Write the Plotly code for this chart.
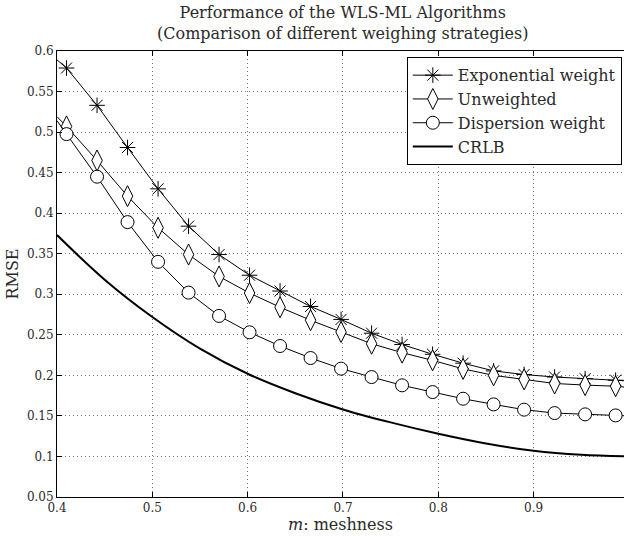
import plotly.graph_objects as go

# ---- data ----
m = [0.41, 0.442, 0.474, 0.506, 0.538, 0.57, 0.602, 0.634, 0.666, 0.698,
     0.73, 0.762, 0.794, 0.826, 0.858, 0.89, 0.922, 0.954, 0.986]

exp_w = [0.579, 0.533, 0.481, 0.430, 0.384, 0.349, 0.3235, 0.304, 0.285, 0.269,
         0.252, 0.238, 0.226, 0.215, 0.2055, 0.201, 0.198, 0.196, 0.194]
unw = [0.507, 0.465, 0.421, 0.382, 0.349, 0.322, 0.3015, 0.284, 0.268, 0.2535,
       0.239, 0.228, 0.2185, 0.208, 0.200, 0.195, 0.190, 0.188, 0.1866]
disp_w = [0.4975, 0.445, 0.389, 0.340, 0.302, 0.2733, 0.2531, 0.2362, 0.2214, 0.2083,
          0.1979, 0.1877, 0.1794, 0.1712, 0.1642, 0.1577, 0.1535, 0.1519, 0.1506]

# line ends at the axis edges (m = 0.4 and m = 1.0)
m_ends = [0.4, 1.0]
exp_ends = [0.589, 0.193]
unw_ends = [0.519, 0.185]
disp_ends = [0.514, 0.150]

m_crlb = [0.4, 0.45, 0.5, 0.55, 0.6, 0.65, 0.7, 0.75, 0.8, 0.85, 0.9, 0.95, 1.0]
crlb = [0.373, 0.318, 0.272, 0.233, 0.202, 0.178, 0.158, 0.142, 0.128, 0.116, 0.107, 0.102, 0.100]

x_ticks = [0.4, 0.5, 0.6, 0.7, 0.8, 0.9]
y_ticks = [0.05, 0.1, 0.15, 0.2, 0.25, 0.3, 0.35, 0.4, 0.45, 0.5, 0.55, 0.6]
y_ticktext = ["0.05", "0.1", "0.15", "0.2", "0.25", "0.3", "0.35", "0.4", "0.45", "0.5", "0.55", "0.6"]

FONT = "DejaVu Serif"
TXT = "#2a2a2a"
fig = go.Figure()

series = [
    ("Exponential weight", exp_w, exp_ends, dict(symbol="asterisk-open", size=13, color="black",
                                                 line=dict(color="black", width=1))),
    ("Unweighted", unw, unw_ends, dict(symbol="diamond-tall", size=15, color="white",
                                       line=dict(color="black", width=1))),
    ("Dispersion weight", disp_w, disp_ends, dict(symbol="circle", size=13, color="white",
                                                  line=dict(color="black", width=1))),
]

for name, vals, ends, mk in series:
    # extension segments from axis edge to first/last marker
    fig.add_trace(go.Scatter(
        x=[m_ends[0], m[0], None, m[-1], m_ends[1]],
        y=[ends[0], vals[0], None, vals[-1], ends[1]],
        mode="lines", line=dict(color="black", width=1),
        showlegend=False, hoverinfo="skip", legendgroup=name))
    fig.add_trace(go.Scatter(
        x=m, y=vals, mode="lines+markers", name=name, legendgroup=name,
        line=dict(color="black", width=1), marker=mk))

fig.add_trace(go.Scatter(
    x=m_crlb, y=crlb, mode="lines", name="CRLB",
    line=dict(color="black", width=2, shape="spline")))

axis_common = dict(
    showline=True, linecolor="black", linewidth=1,
    ticks="inside", ticklen=5, tickcolor="black",
    showgrid=True, gridcolor="#777", griddash="1px,3px", gridwidth=1,
    zeroline=False,
    tickfont=dict(family=FONT, size=12, color=TXT),
)

fig.update_layout(
    width=624, height=537,
    margin=dict(l=57, r=0, t=51, b=40),
    paper_bgcolor="white", plot_bgcolor="white",
    font=dict(family=FONT, color=TXT),
    title=dict(
        text="Performance of the WLS-ML Algorithms<br>(Comparison of different weighing strategies)",
        x=0.504, xref="paper", xanchor="center",
        y=1 - 18 / 537, yref="container", yanchor="top",
        font=dict(family=FONT, size=16, color=TXT),
    ),
    xaxis=dict(range=[0.4, 0.9948], tickvals=x_ticks, ticktext=[f"{v:g}" for v in x_ticks],
               mirror="ticks",
               title=dict(text="<i>m</i>: meshness", font=dict(family=FONT, size=16, color=TXT), standoff=2),
               **axis_common),
    yaxis=dict(range=[0.05, 0.6], tickvals=y_ticks, ticktext=y_ticktext, mirror=False,
               title=dict(text="RMSE", font=dict(family=FONT, size=16, color=TXT), standoff=4),
               **axis_common),
    legend=dict(x=0.617, y=0.986, xanchor="left", yanchor="top",
                bgcolor="white", bordercolor="black", borderwidth=1,
                font=dict(family=FONT, size=16, color=TXT),
                tracegroupgap=0, itemwidth=40),
    showlegend=True,
)

fig.write_html("out.html")
